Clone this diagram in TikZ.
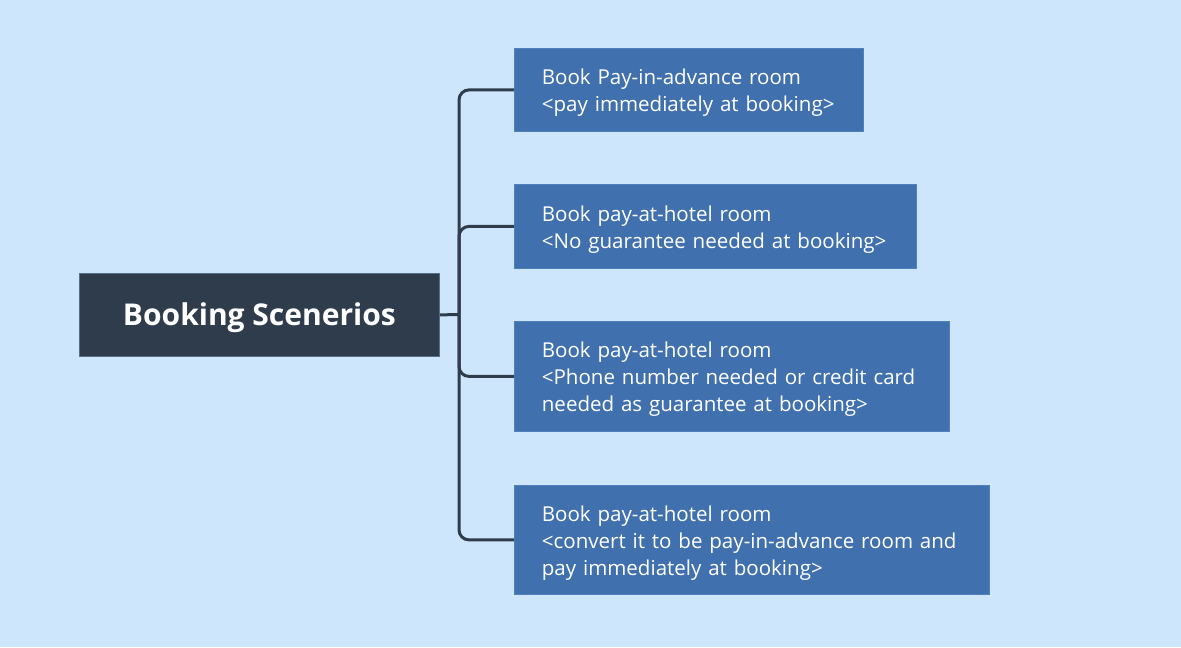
\documentclass[tikz,border=0pt]{standalone}
\usepackage{fontspec}
\setmainfont{Open Sans}
\definecolor{bg}{RGB}{205,230,252}
\definecolor{rootfill}{RGB}{47,60,76}
\definecolor{rootedge}{RGB}{90,110,135}
\definecolor{leaffill}{RGB}{64,112,174}
\definecolor{leafedge}{RGB}{80,128,190}
\definecolor{connc}{RGB}{47,60,76}
\newcommand{\topstrut}{\rule{0pt}{16.5pt}}
\tikzset{
  rootbox/.style={fill=rootfill, draw=rootedge, line width=0.6pt, text=white,
    font=\fontsize{22.5}{27}\selectfont\bfseries, inner sep=0pt,
    minimum width=270pt, minimum height=62.25pt, anchor=north west},
  leafbox/.style={fill=leaffill, draw=leafedge, line width=0.6pt, text=white,
    font=\fontsize{15.4}{20.25}\selectfont, align=left, inner xsep=20.6pt, inner ysep=0pt,
    anchor=north west},
  conn/.style={draw=connc, line width=2.25pt, rounded corners=7.5pt}
}
\begin{document}
\begin{tikzpicture}[x=0.75pt, y=-0.75pt]
\useasboundingbox[fill=bg] (0,0) rectangle (1181,647);
\node[rootbox] (root) at (79,273) {\raisebox{-2.25pt}[\height][\depth]{Booking Scenerios}};
\node[leafbox, text width=220.5pt, minimum height=62.25pt] (l1) at (514,48)
  {\mbox{\topstrut Book Pay-in-advance room}\\\mbox{<pay immediately at booking>}};
\node[leafbox, text width=260.3pt, minimum height=63pt] (l2) at (514,184)
  {\mbox{\topstrut Book pay-at-hotel room}\\\mbox{<No guarantee needed at booking>}};
\node[leafbox, text width=285pt, minimum height=82.5pt] (l3) at (514,321)
  {\mbox{\topstrut Book pay-at-hotel room}\\\mbox{<Phone number needed or credit card}\\\mbox{needed as guarantee at booking>}};
\node[leafbox, text width=315pt, minimum height=81.75pt] (l4) at (514,485)
  {\mbox{\topstrut Book pay-at-hotel room}\\\mbox{<convert it to be pay-in-advance room and}\\\mbox{pay immediately at booking>}};
\coordinate (j) at (459,314.5);
\draw[conn] (root.east) -- (j);
\draw[conn] (j) |- (l1.west);
\draw[conn] (j) |- (l2.west);
\draw[conn] (j) |- (l3.west);
\draw[conn] (j) |- (l4.west);
\end{tikzpicture}
\end{document}
